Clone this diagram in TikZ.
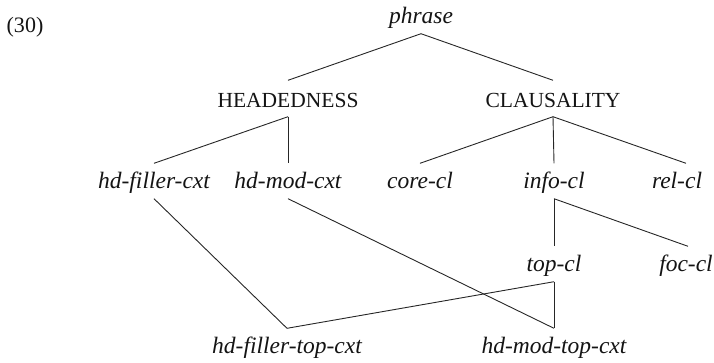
\documentclass[tikz,border=0pt]{standalone}
\usepackage{fontspec}
\setmainfont{Liberation Serif}
\begin{document}
\begin{tikzpicture}[x=1pt,y=-1pt,
  lbl/.style={font=\fontsize{23.5}{26}\selectfont\itshape, text height=19pt, text depth=5pt, inner xsep=0pt, inner ysep=5.5pt, anchor=base, text=black!92},
  caps/.style={font=\fontsize{21.5}{24}\selectfont, text height=21pt, text depth=4pt, inner xsep=0pt, inner ysep=5.5pt, anchor=base, text=black!92},
  edge/.style={draw=black!85, line width=0.9pt}]
\useasboundingbox (0,0) rectangle (714,362);
\node[inner sep=0pt, anchor=base, text=black!92, font=\fontsize{22}{24}\selectfont] (ex) at (25,32) {(30)};
\node[lbl] (phrase) at (421,23) {phrase};
\node[caps] (head) at (288,107) {HEADEDNESS};
\node[caps] (claus) at (553,107) {CLAUSALITY};
\node[lbl] (hfc) at (154,188) {hd-filler-cxt};
\node[lbl] (hmc) at (288,188) {hd-mod-cxt};
\node[lbl] (core) at (420,188) {core-cl};
\node[lbl] (info) at (554,188) {info-cl};
\node[lbl] (rel) at (677,188) {rel-cl};
\node[lbl] (top) at (554,271) {top-cl};
\node[lbl] (foc) at (686,271) {foc-cl};
\node[lbl] (hftc) at (287,353) {hd-filler-top-cxt};
\node[lbl] (hmtc) at (554,353) {hd-mod-top-cxt};
\draw[edge] (phrase.south) -- (head.north);
\draw[edge] (phrase.south) -- (claus.north);
\draw[edge] (head.south) -- (hfc.north);
\draw[edge] (head.south) -- (hmc.north);
\draw[edge] (claus.south) -- (core.north);
\draw[edge] (claus.south) -- (info.north);
\draw[edge] (claus.south) -- ([xshift=9pt]rel.north);
\draw[edge] (info.south) -- (top.north);
\draw[edge] (info.south) -- ([xshift=2pt]foc.north);
\draw[edge] (hfc.south) -- (hftc.north);
\draw[edge] (hmc.south) -- (hmtc.north);
\draw[edge] (top.south) -- (hftc.north);
\draw[edge] (top.south) -- (hmtc.north);
\end{tikzpicture}
\end{document}
